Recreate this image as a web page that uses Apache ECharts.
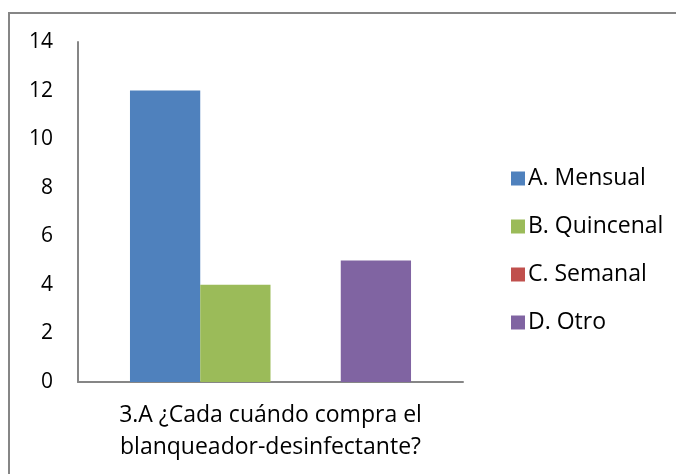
<!DOCTYPE html>
<html>
<head>
<meta charset="utf-8">
<script src="https://cdn.jsdelivr.net/npm/echarts@6/dist/echarts.min.js"></script>
<style>
  html, body { margin: 0; padding: 0; background: #fff; }
  #chart { width: 676px; height: 474px; }
</style>
</head>
<body>
<div id="chart"></div>
<script>
// Single question category, one bar per answer option
const categories = ['3.A ¿Cada cuándo compra el\nblanqueador-desinfectante?'];
const seriesNames = ['A. Mensual', 'B. Quincenal', 'C. Semanal', 'D. Otro'];
const seriesValues = [[12], [4], [0], [5]];
const seriesColors = ['#4f81bd', '#9bbb59', '#c0504d', '#8064a2'];
const yTicks = { min: 0, max: 14, interval: 2 };

const FONT = '"Open Sans", "Noto Sans", sans-serif';
const axisGray = '#868686';

const chart = echarts.init(document.getElementById('chart'), null, { renderer: 'canvas' });

chart.setOption({
  animation: false,
  backgroundColor: '#fff',
  graphic: [{
    type: 'rect',
    shape: { x: 9, y: 13, width: 700, height: 500 },
    style: { fill: 'none', stroke: axisGray, lineWidth: 2 },
    silent: true
  }],
  grid: { left: 78, top: 42, right: 213, bottom: 92, containLabel: false },
  legend: {
    orient: 'vertical',
    left: 506,
    top: 162,
    itemWidth: 14,
    itemHeight: 14,
    itemGap: 25,
    icon: 'rect',
    data: seriesNames,
    textStyle: { fontFamily: FONT, fontSize: 23, lineHeight: 23, color: '#000', padding: [0, 0, 0, -2] }
  },
  xAxis: {
    type: 'category',
    data: categories,
    axisLine: { lineStyle: { color: axisGray, width: 2 } },
    axisTick: { show: false },
    axisLabel: {
      margin: 17,
      fontFamily: FONT,
      fontSize: 23,
      color: '#000',
      lineHeight: 32
    }
  },
  yAxis: {
    type: 'value',
    min: yTicks.min,
    max: yTicks.max,
    interval: yTicks.interval,
    axisLine: { show: true, lineStyle: { color: axisGray, width: 2 } },
    axisTick: { show: false },
    splitLine: { show: false },
    axisLabel: {
      margin: 25,
      fontFamily: FONT,
      fontSize: 21,
      color: '#000'
    }
  },
  series: seriesNames.map((name, i) => ({
    name,
    type: 'bar',
    data: seriesValues[i],
    barGap: '0%',
    barCategoryGap: '27%',
    itemStyle: { color: seriesColors[i] }
  }))
});
</script>
</body>
</html>
